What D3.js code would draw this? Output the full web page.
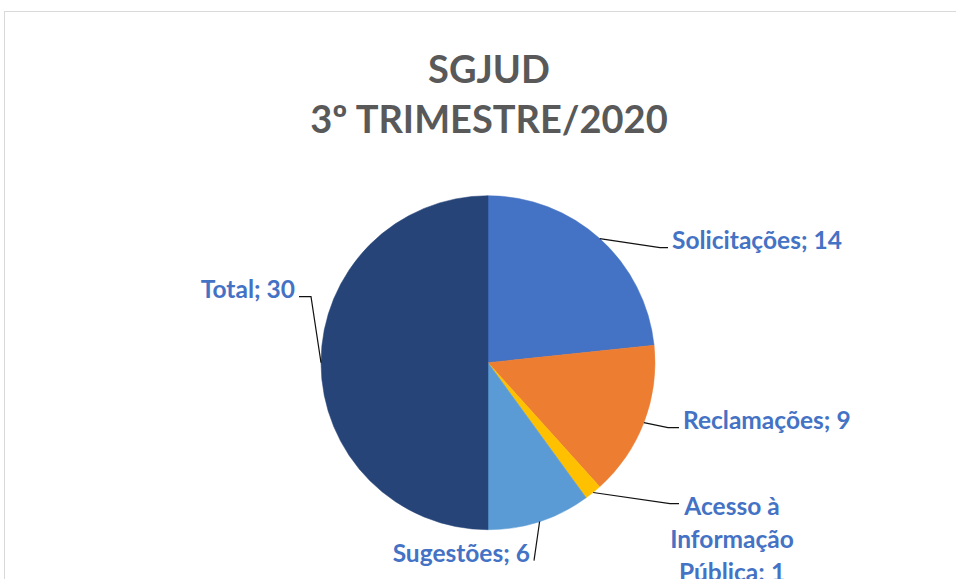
<!DOCTYPE html>
<html>
<head>
<meta charset="utf-8">
<script src="https://cdn.jsdelivr.net/npm/d3@7"></script>
<style>
    html, body { margin: 0; padding: 0; background: #fff; }
    svg { display: block; }
    text { font-family: Lato, "Open Sans", sans-serif; font-weight: bold; }
</style>
</head>
<body>
<svg id="chart" width="956" height="579"></svg>
<script>

const categories = ['Solicitações', 'Reclamações', 'Acesso à Informação Pública', 'Sugestões', 'Total'];
const values = [14, 9, 1, 6, 30];
const colors = ['#4472C4', '#ED7D31', '#FFC000', '#5B9BD5', '#264478'];
const titleLines = ['SGJUD', '3º TRIMESTRE/2020'];

// label placement (elbow offset from centre, text anchor side, text lines)
const labelLayout = [
    {elbow: [172, -115], end: [180, -115], anchor: 'start', lines: ['Solicitações; 14']},
    {elbow: [180, 65], end: [191, 65], anchor: 'start', lines: ['Reclamações; 9']},
    {elbow: [182, 141], end: [191, 141], anchor: 'middle', lines: ['Acesso à', 'Informação', 'Pública; 1']},
    {elbow: [46, 198], end: [46, 198], anchor: 'end', lines: ['Sugestões; 6']},
    {elbow: [-177, -66], end: [-189, -66], anchor: 'end', lines: ['Total; 30']}
];

const width = 956;
const height = 579;
const cx = 488;
const cy = 362.7;
const radius = 167;

const svg = d3.select('#chart');

// chart area border
svg.append('rect')
    .attr('x', 4.5)
    .attr('y', 11.5)
    .attr('width', width + 10)
    .attr('height', height + 10)
    .attr('fill', '#fff')
    .attr('stroke', '#d9d9d9');

svg.append('g')
    .selectAll('text')
    .data(titleLines)
    .join('text')
    .attr('x', 489)
    .attr('y', (d, i) => 83 + i * 50)
    .attr('text-anchor', 'middle')
    .attr('fill', '#595959')
    .attr('font-size', 38)
    .text(d => d);

const color = d3.scaleOrdinal().domain(categories).range(colors);

const pie = d3.pie()
    .sort(null)
    .value(d => d.value);

const arcs = pie(categories.map((c, i) => ({name: c, value: values[i]})));

const arc = d3.arc().innerRadius(0).outerRadius(radius);
const edge = d3.arc().innerRadius(radius).outerRadius(radius);

const scene = svg.append('g').attr('transform', `translate(${cx},${cy})`);

scene.selectAll('path.slice')
    .data(arcs)
    .join('path')
    .attr('class', 'slice')
    .attr('d', arc)
    .attr('fill', d => color(d.data.name))
    .attr('stroke', d => color(d.data.name))
    .attr('stroke-width', 0.5);

const labels = scene.selectAll('g.label')
    .data(arcs)
    .join('g')
    .attr('class', 'label');

labels.append('polyline')
    .attr('points', (d, i) => {
        const {elbow, end} = labelLayout[i];
        return [edge.centroid(d), elbow, end].map(p => p.join(',')).join(' ');
    })
    .attr('fill', 'none')
    .attr('stroke', '#111')
    .attr('stroke-width', 1.2);

labels.each(function (d, i) {
    const {end, anchor, lines} = labelLayout[i];
    const gap = 4;
    let x = end[0];
    if (anchor === 'start') x += gap;
    if (anchor === 'end') x -= gap;
    if (anchor === 'middle') x += 53;
    const y0 = lines.length > 1 ? end[1] + 11 : end[1] + 1;

    d3.select(this)
        .selectAll('text')
        .data(lines)
        .join('text')
        .attr('x', x)
        .attr('y', (t, j) => y0 + j * 33)
        .attr('text-anchor', anchor)
        .attr('fill', '#4472C4')
        .attr('font-size', 24.5)
        .text(t => t);
});

</script>
</body>
</html>
